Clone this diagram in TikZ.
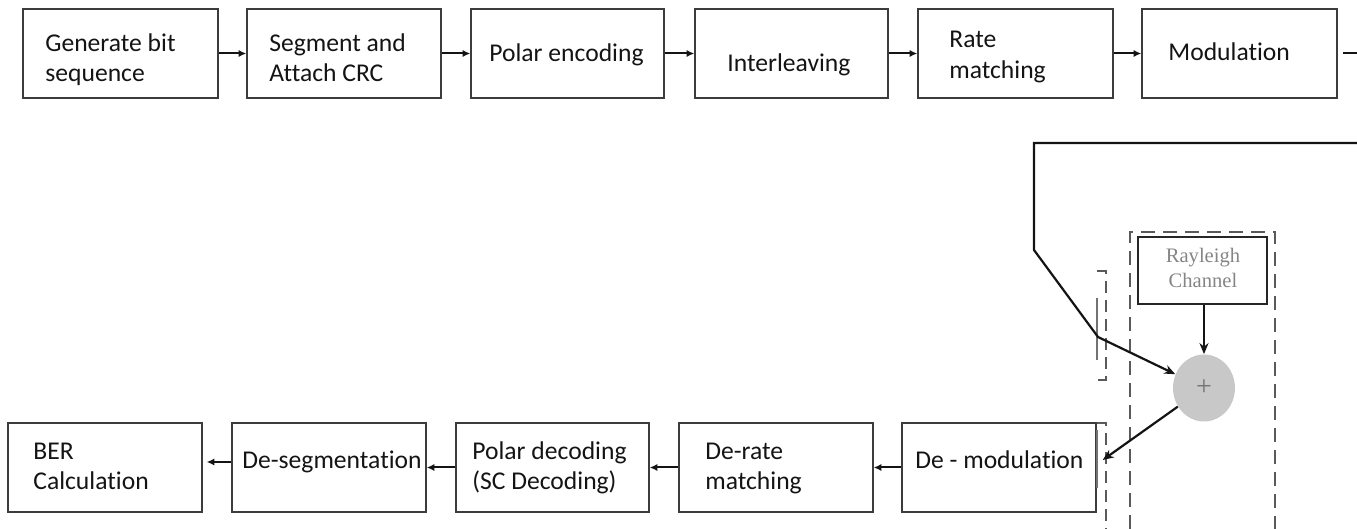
\documentclass[tikz,border=0pt]{standalone}
\usepackage{fontspec}
\setmainfont[Ligatures={NoCommon}]{Carlito}
\newfontfamily\chanfont{Liberation Serif}
\usetikzlibrary{arrows.meta,fit,calc,shapes.geometric}
\definecolor{edge}{HTML}{3C3C3C}
\definecolor{ink}{HTML}{141414}
\definecolor{dashgray}{HTML}{5A5A5A}
\definecolor{sumfill}{HTML}{C8C8C8}
\definecolor{chantext}{HTML}{858585}
\begin{document}
\begin{tikzpicture}[x=0.5pt,y=-0.5pt,
  blockbox/.style={draw=edge,line width=0.75pt,inner sep=0pt},
  lbl/.style={anchor=base west,inner sep=0pt,text=ink,font=\fontsize{12.8}{15}\selectfont},
  chanlbl/.style={anchor=base,inner sep=0pt,text=chantext,font=\chanfont\fontsize{10.3}{12}\selectfont},
  flow/.style={draw=ink,line width=1pt,-{Latex[length=3.8pt,width=3.6pt]}},
  plainline/.style={draw=ink,line width=1pt},
  chan/.style={draw=ink,line width=1.1pt,-{Stealth[length=5.5pt,width=4.5pt]}},
  boundary/.style={draw=dashgray,line width=0.9pt,dash pattern=on 7pt off 4pt},
  bracket/.style={draw=dashgray,line width=0.8pt,dash pattern=on 6pt off 3.5pt},
  seam/.style={draw=black!55,line width=1pt}]
\useasboundingbox (0,0) rectangle (1357,529);

% ---- transmitter chain ----
\node[blockbox,fit={(23,9) (218,98)}] (b1) {};
\node[blockbox,fit={(247,9) (441,98)}] (b2) {};
\node[blockbox,fit={(471,9) (664,98)}] (b3) {};
\node[blockbox,fit={(695,9) (888,98)}] (b4) {};
\node[blockbox,fit={(918,9) (1113,98)}] (b5) {};
\node[blockbox,fit={(1142,9) (1337,98)}] (b6) {};

\node[lbl] (t1a) at (45,52) {Generate bit};
\node[lbl] (t1b) at (45,82) {sequence};
\node[lbl] (t2a) at (269,52) {Segment and};
\node[lbl] (t2b) at (269,82) {Attach CRC};
\node[lbl] (t3) at (489,62) {Polar encoding};
\node[lbl] (t4) at (727,72) {Interleaving};
\node[lbl] (t5a) at (949,48) {Rate};
\node[lbl] (t5b) at (949,79) {matching};
\node[lbl] (t6) at (1168,61) {Modulation};

\draw[flow] (b1) -- (b2);
\draw[flow] (b2) -- (b3);
\draw[flow] (b3) -- (b4);
\draw[flow] (b4) -- (b5);
\draw[flow] (b5) -- (b6);
\coordinate (txout) at (1357,53.5);
\draw[plainline] ([xshift=2.5pt]b6.east) -- (txout);

% ---- receiver chain ----
\node[blockbox,fit={(8,423) (202,512)}] (d1) {};
\node[blockbox,fit={(232,423) (426,512)}] (d2) {};
\node[blockbox,fit={(456,423) (649,512)}] (d3) {};
\node[blockbox,fit={(679,423) (873,512)}] (d4) {};
\node[blockbox,fit={(902,423) (1096,512)}] (d5) {};

\node[lbl] (u1a) at (33,460) {BER};
\node[lbl] (u1b) at (33,490) {Calculation};
\node[lbl] (u2) at (242,469) {De-segmentation};
\node[lbl] (u3a) at (472,460) {Polar decoding};
\node[lbl] (u3b) at (472,490) {(SC Decoding)};
\node[lbl] (u4a) at (705,460) {De-rate};
\node[lbl] (u4b) at (705,490) {matching};
\node[lbl] (u5) at (915,469) {De - modulation};

\draw[flow] (d5) -- (d4);
\draw[flow] (d4) -- (d3);
\draw[flow] (d3) -- (d2);
\draw[flow] ($(d2.west)+(0,-5.5)$) -- ($(d1.east)+(4,-5.5)$);

% ---- channel ----
\draw[boundary] (1130,529) -- (1130,232) -- (1275,232) -- (1275,529);
\draw[bracket] (1097,271) -- (1106,271) -- (1106,380) -- (1097,380);
\draw[bracket] (1097,423) -- (1106,423) -- (1106,529);
\draw[seam] (1097,298) -- (1097,360);
\draw[seam] (1097,430) -- (1097,488);

\node[draw=black!85,line width=1pt,inner sep=0pt,fit={(1138,237) (1267,304)}] (ray) {};
\node[chanlbl] (rayA) at (1203,263) {Rayleigh};
\node[chanlbl] (rayB) at (1203,288) {Channel};

\node[ellipse,fill=sumfill,inner sep=0pt,minimum width=31pt,minimum height=33.5pt] (sum) at (1204,388) {};
\node[inner sep=0pt,text=black!55,font=\chanfont\fontsize{14}{14}\selectfont] (plus) at (sum.center) {+};

\coordinate (feed) at (1357,143);
\draw[chan] (feed) -- (1034,143) -- (1034,250) -- (1098,337) -- (sum);
\draw[chan] (ray.south -| sum) -- (sum.north);
\draw[chan] (sum) -- ($(d5.east)+(6,-7.5)$);
\end{tikzpicture}
\end{document}
